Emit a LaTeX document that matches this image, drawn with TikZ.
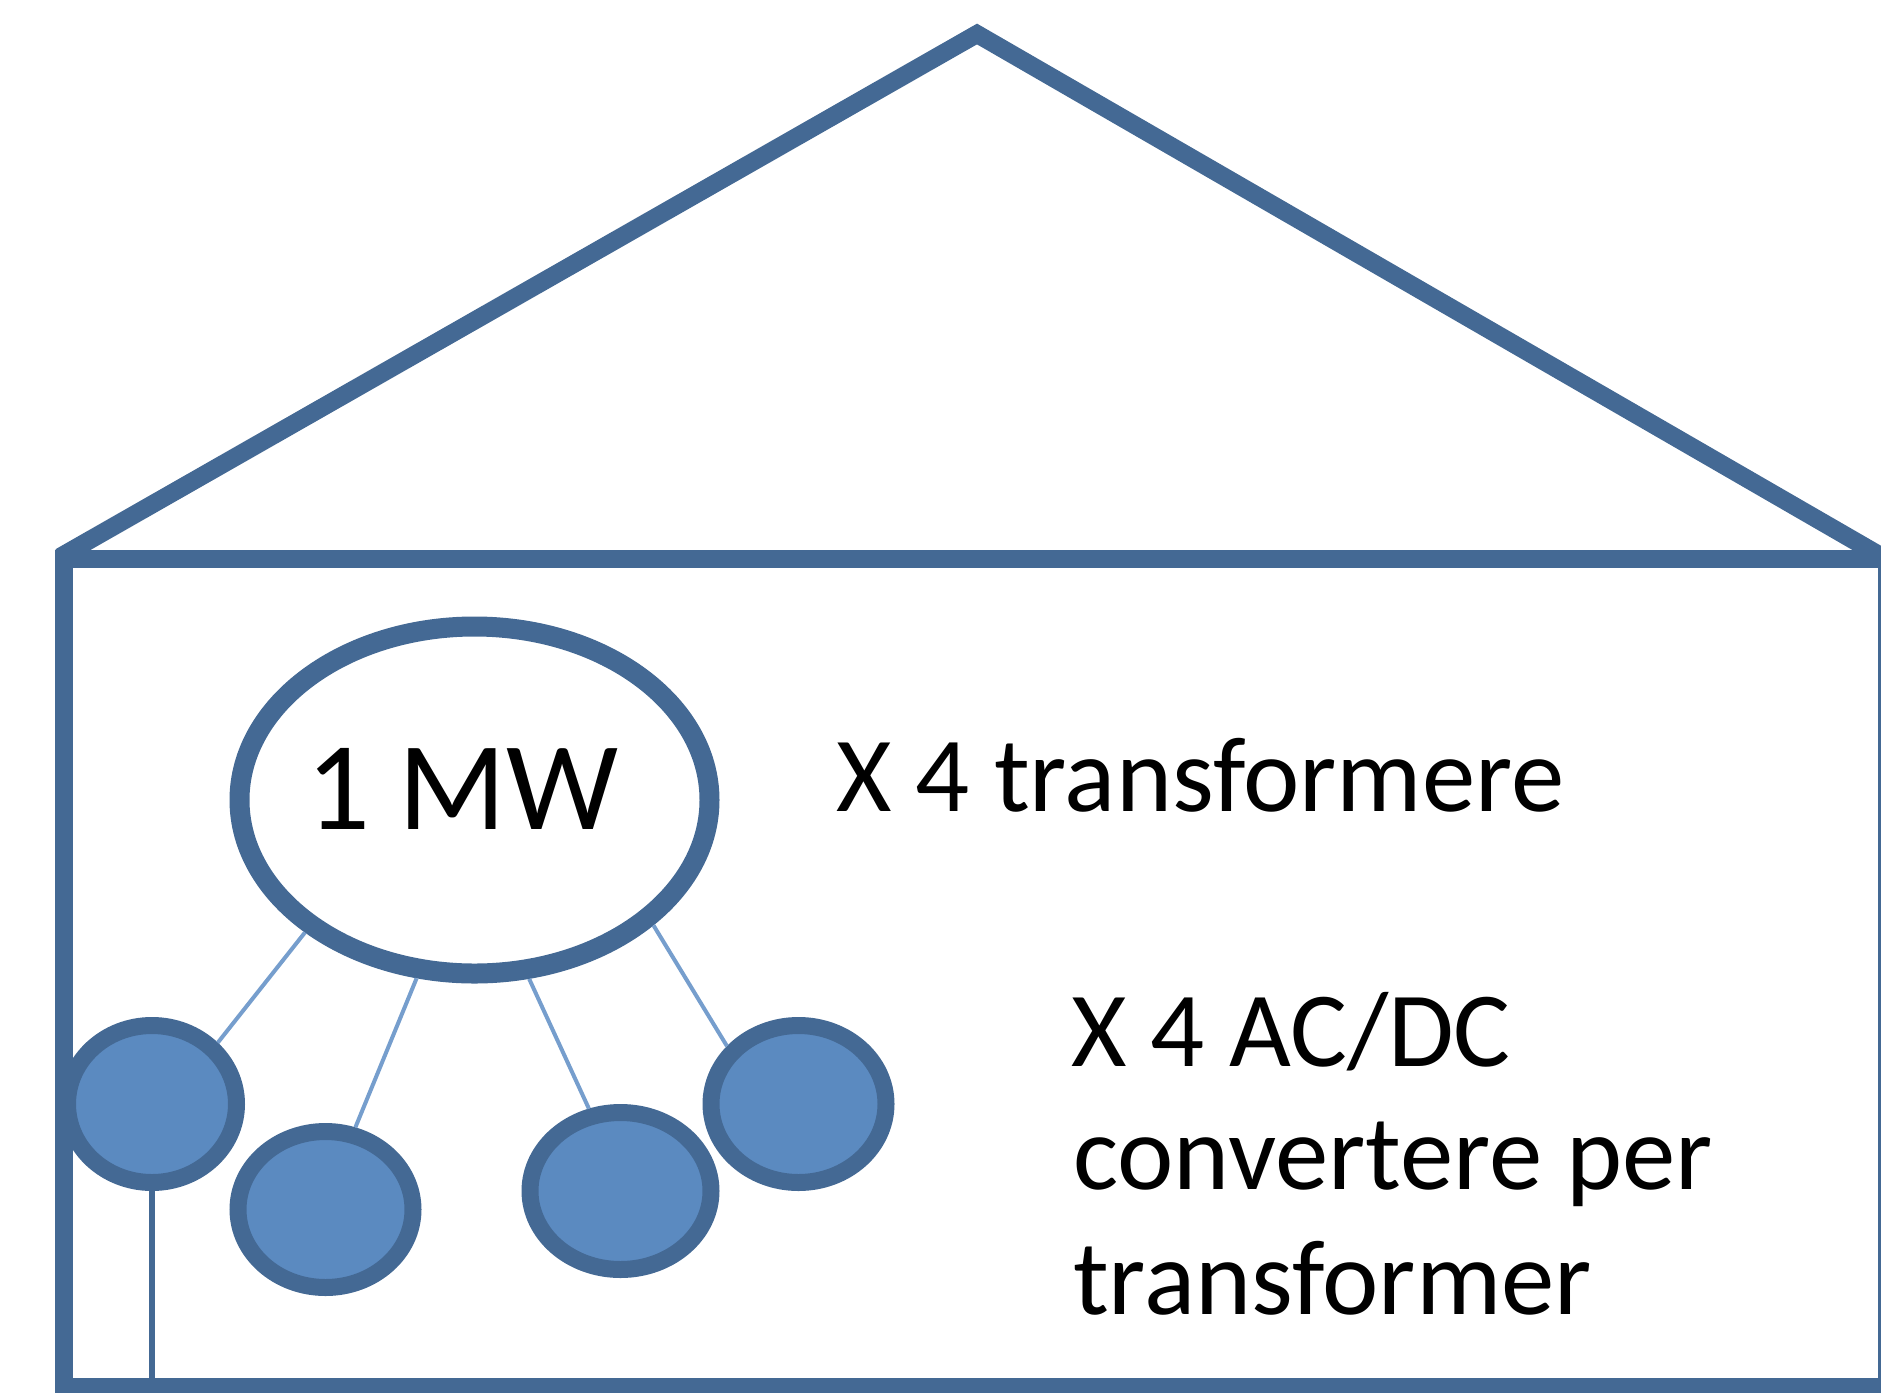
\documentclass[tikz,border=0pt]{standalone}
\usepackage{fontspec}
\setmainfont{Carlito}
\usetikzlibrary{shapes.geometric}
\definecolor{edge}{RGB}{68,105,148}
\definecolor{fillb}{RGB}{91,138,192}
\definecolor{thinl}{RGB}{118,158,205}
\begin{document}
\begin{tikzpicture}[x=1pt,y=-1pt,
  wall/.style={draw=edge,line width=18pt},
  conv/.style={ellipse,draw=edge,fill=fillb,line width=17pt,inner sep=0pt},
  link/.style={draw=thinl,line width=4pt},
  txt/.style={anchor=base west,inner sep=0pt,text=black,font=\fontsize{106.8}{124}\selectfont}
]
\useasboundingbox (0,0) rectangle (1881,1392);
\clip (0,0) rectangle (1881,1392);
% house
\coordinate (roofL) at (60,557);
\coordinate (apex) at (977,34);
\coordinate (roofR) at (1886,559);
\coordinate (floor) at (151,1387);
\draw[wall] (roofL) -- (apex) -- (roofR);
\draw[wall] (64,559) rectangle (1887,1387);
% transformer
\node[ellipse,draw=edge,fill=white,line width=20pt,inner sep=0pt,minimum width=470pt,minimum height=347pt] (ell) at (474.5,800) {};
\node[anchor=base west,inner sep=0pt,font=\fontsize{126}{150}\selectfont] (mw) at (306,829) {1 MW};
% converters
\node[conv,minimum width=169pt,minimum height=157pt] (c1) at (152,1104) {};
\node[conv,minimum width=175pt,minimum height=156pt] (c2) at (325.5,1209.5) {};
\node[conv,minimum width=181pt,minimum height=157pt] (c3) at (620.5,1191) {};
\node[conv,minimum width=175pt,minimum height=157pt] (c4) at (798.5,1104) {};
% links
\draw[link] (ell.-142.7) -- (c1.43.5);
\draw[link] (ell.-108.3) -- (c2.70.2);
\draw[link] (ell.-73) -- (c3.111.8);
\draw[link] (ell.-35.1) -- (c4.141.5);
\draw[draw=edge,line width=6pt] (c1.south) -- (c1.south |- floor);
% texts
\node[txt] (t1) at (836,811) {X 4 transformere};
\node[txt] (t2) at (1071,1066) {X 4 AC/DC};
\node[txt] (t3) at (1073,1189) {convertere per};
\node[txt] (t4) at (1073,1314) {transformer};
\end{tikzpicture}
\end{document}
